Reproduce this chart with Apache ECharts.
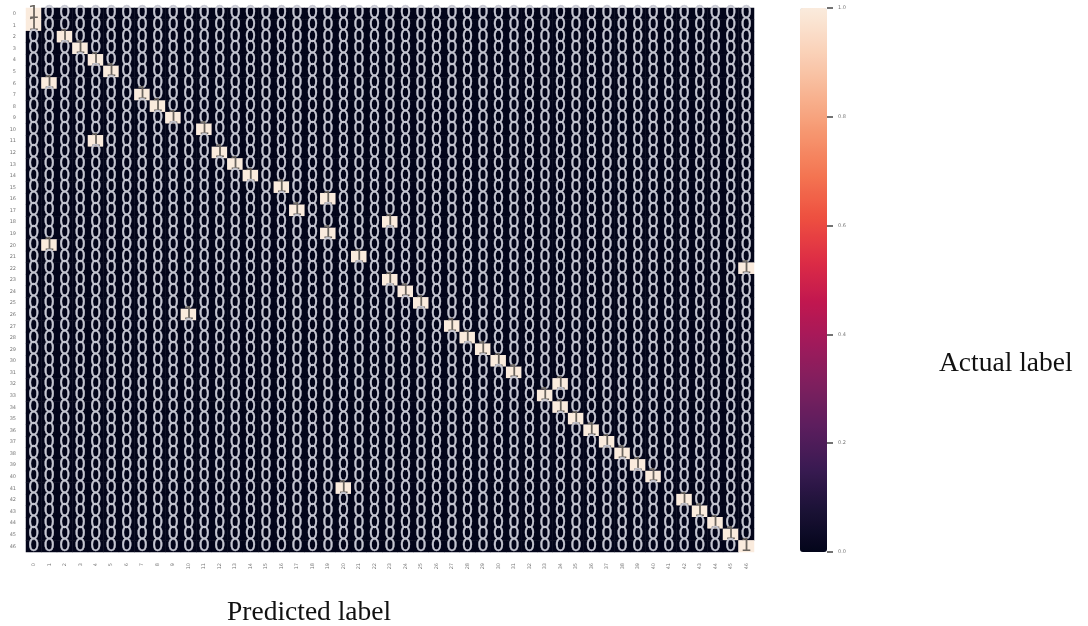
<!DOCTYPE html>
<html><head><meta charset="utf-8">
<style>html,body{margin:0;padding:0;background:#fff}#c{width:1088px;height:626px}</style>
<script src="https://cdn.jsdelivr.net/npm/echarts@6/dist/echarts.min.js"></script>
</head><body><div id="c"></div>
<script>
// categories 0..46 as tick labels
const xLabels = ["0","1","2","3","4","5","6","7","8","9","10","11","12","13","14","15","16","17","18","19","20","21","22","23","24","25","26","27","28","29","30","31","32","33","34","35","36","37","38","39","40","41","42","43","44","45","46"];
const yLabels = xLabels.slice();
// predicted column holding the single 1 in each actual row
const predictedByRow = [0,0,2,3,4,5,1,7,8,9,11,4,12,13,14,16,19,17,23,19,1,21,46,23,24,25,10,27,28,29,30,31,34,33,34,35,36,37,38,39,40,20,42,43,44,45,46];
const rocket = ["#03051a","#1b1236","#3a1a52","#5c1e5e","#7e1f5e","#a11a5b","#c2174f","#de2e45","#ee5040","#f47552","#f6966f","#f8b694","#fad3ba","#faebdd"];

const cells = [];
yLabels.forEach((_, r) => xLabels.forEach((_, c) => {
  const v = predictedByRow[r] === c ? 1 : 0;
  cells.push({value:[c,r,v], label: v
    ? {color:"#6a645e"}
    : {color:"#c6c7d2", textBorderColor:"#c6c7d2", textBorderWidth:0.3}});
}));

const chart = echarts.init(document.getElementById('c'), null, {renderer:'canvas'});
chart.setOption({
  animation:false,
  backgroundColor:'#fff',
  grid:[
    {left:26,top:8,width:728,height:544},
    {left:800,top:8,width:27,height:544}
  ],
  xAxis:[
    {type:'category',data:xLabels,gridIndex:0,position:'bottom',
     axisLine:{show:false},axisTick:{show:false},splitLine:{show:false},
     axisLabel:{interval:0,rotate:90,fontSize:5,color:'#777',margin:11,fontFamily:'DejaVu Sans'}},
    {type:'value',gridIndex:1,show:false,min:0,max:1}
  ],
  yAxis:[
    {type:'category',data:yLabels,gridIndex:0,inverse:true,
     axisLine:{show:false},axisTick:{show:false},splitLine:{show:false},
     axisLabel:{interval:0,fontSize:5,color:'#777',margin:10,fontFamily:'DejaVu Sans'}},
    {type:'value',gridIndex:1,min:0,max:1,interval:0.2,position:'right',
     axisLine:{show:false,onZero:false},splitLine:{show:false},
     axisTick:{show:true,length:6,lineStyle:{color:'#444',width:1.5}},
     axisLabel:{fontSize:5,color:'#777',margin:11,fontFamily:'DejaVu Sans',
       formatter:v=>v.toFixed(1)}}
  ],
  visualMap:{
    type:'continuous',min:0,max:1,seriesIndex:0,calculable:false,
    left:800,top:8,itemWidth:27,itemHeight:544,text:['',''],showLabel:false,padding:0,
    inRange:{color:rocket}
  },
  title:[
    {text:'Predicted label',left:227,top:599,padding:0,textStyle:{fontFamily:'Liberation Serif',fontSize:27.5,fontWeight:'normal',color:'#111'}},
    {text:'Actual label',left:939,top:350,padding:0,textStyle:{fontFamily:'Liberation Serif',fontSize:27.5,fontWeight:'normal',color:'#111'}}
  ],
  series:[{
    type:'heatmap',xAxisIndex:0,yAxisIndex:0,data:cells,
    itemStyle:{borderWidth:0},
    label:{show:true,fontFamily:'DejaVu Sans',fontSize:18,formatter:p=>String(p.value[2])},
    emphasis:{disabled:true}
  }]
});
</script></body></html>
